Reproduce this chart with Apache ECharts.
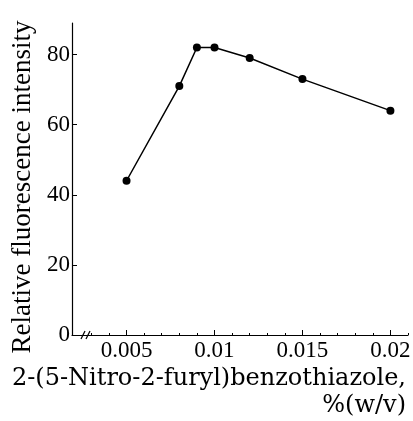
<!DOCTYPE html>
<html>
<head>
<meta charset="utf-8">
<script src="https://cdn.jsdelivr.net/npm/echarts@6/dist/echarts.min.js"></script>
<style>
  html, body { margin: 0; padding: 0; background: #fff; }
  #chart { width: 413px; height: 421px; }
</style>
</head>
<body>
<div id="chart"></div>
<script>
// concentration, % (w/v)
const concentration = [0.005, 0.008, 0.009, 0.01, 0.012, 0.015, 0.02]
// relative fluorescence intensity
const intensity = [44, 71, 82, 82, 79, 73, 64]
const xTickValues = [0.005, 0.01, 0.015, 0.02]
const xMinorValues = [0.003, 0.004, 0.006, 0.007, 0.008, 0.009, 0.011, 0.012, 0.013, 0.014, 0.016, 0.017, 0.018, 0.019, 0.021]
const yTickValues = [0, 20, 40, 60, 80]

const serif = '"Liberation Serif", "DejaVu Serif", serif'
const wideSerif = '"DejaVu Serif", serif'
const chart = echarts.init(document.getElementById('chart'))

const points = concentration.map((c, i) => [c, intensity[i]])

const option = {
    animation: false,
    grid: { left: 72, right: 5, top: 23, bottom: 86, outerBoundsMode: 'none', containLabel: false },
    xAxis: [
        {
            type: 'value',
            min: 0.0019,
            max: 0.021,
            splitLine: { show: false },
            axisLine: { lineStyle: { color: '#000', width: 1.2 } },
            axisTick: {
                inside: true,
                length: 5,
                customValues: xTickValues,
                lineStyle: { color: '#000' }
            },
            axisLabel: {
                customValues: xTickValues,
                color: '#000',
                fontFamily: serif,
                fontSize: 23,
                margin: 4,
                formatter: v => String(+v.toFixed(3))
            },
            name: '2-(5-Nitro-2-furyl)benzothiazole,\n%(w/v)',
            nameLocation: 'end',
            nameGap: 0,
            nameMoveOverlap: false,
            nameTextStyle: {
                color: '#000',
                fontFamily: wideSerif,
                fontSize: 24,
                align: 'right',
                verticalAlign: 'top',
                lineHeight: 27,
                padding: [30, 2, 0, 0]
            }
        },
        {
            type: 'value',
            min: 0.0019,
            max: 0.021,
            position: 'bottom',
            splitLine: { show: false },
            axisLine: { show: false },
            axisLabel: { show: false },
            axisTick: {
                inside: true,
                length: 2,
                customValues: xMinorValues,
                lineStyle: { color: '#000', width: 1 }
            }
        }
    ],
    yAxis: {
        type: 'value',
        min: 0,
        max: 89,
        splitLine: { show: false },
        axisLine: { lineStyle: { color: '#000', width: 1.2 } },
        axisTick: {
            inside: true,
            length: 5,
            customValues: yTickValues,
            lineStyle: { color: '#000' }
        },
        axisLabel: {
            customValues: yTickValues,
            color: '#000',
            fontFamily: serif,
            fontSize: 23,
            margin: 2
        },
        name: 'Relative fluorescence intensity',
        nameLocation: 'middle',
        nameGap: 36,
        nameRotate: 90,
        nameTextStyle: {
            color: '#000',
            fontFamily: serif,
            fontSize: 27,
            padding: [0, 16, 0, 0]
        }
    },
    series: [
        {
            type: 'line',
            data: points,
            symbol: 'circle',
            symbolSize: 8,
            itemStyle: { color: '#000' },
            lineStyle: { color: '#000', width: 1.5 }
        }
    ],
    // axis break mark near the origin
    graphic: [
        { type: 'rect', shape: { x: 82, y: 331, width: 8, height: 8 }, style: { fill: '#fff' } },
        { type: 'line', shape: { x1: 81, y1: 339, x2: 85, y2: 331 }, style: { stroke: '#000', lineWidth: 1.2 } },
        { type: 'line', shape: { x1: 86, y1: 339, x2: 90, y2: 331 }, style: { stroke: '#000', lineWidth: 1.2 } }
    ]
}
chart.setOption(option)
</script>
</body>
</html>
